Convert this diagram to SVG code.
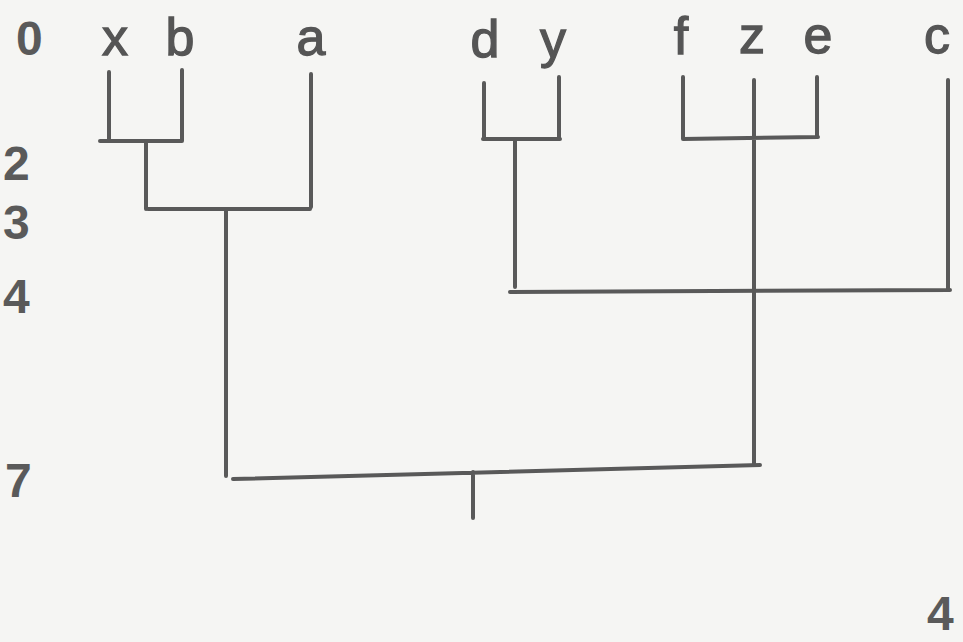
<svg xmlns="http://www.w3.org/2000/svg" width="963" height="642" viewBox="0 0 963 642">
<style>
.t{font-family:"Liberation Sans",Arial,sans-serif;font-size:52px;fill:#555;stroke:#555;stroke-width:1.3px;}
.n{font-family:"Liberation Sans",Arial,sans-serif;font-size:48px;fill:#5a5a5a;font-weight:bold;}
.l{stroke:#595959;stroke-width:4;fill:none;stroke-linecap:round;stroke-linejoin:round;}
</style>
<rect width="963" height="642" fill="#f5f5f3"/>
<g id="scale">
<text class="n" x="16" y="55">0</text>
<text class="n" x="3" y="180">2</text>
<text class="n" x="3" y="239">3</text>
<text class="n" x="3" y="313">4</text>
<text class="n" x="5" y="497">7</text>
<text class="n" x="927" y="630">4</text>
</g>
<g id="leaf-x"><text class="t" x="115" y="55" text-anchor="middle">x</text></g>
<g id="leaf-b"><text class="t" x="180" y="55" text-anchor="middle">b</text></g>
<g id="leaf-a"><text class="t" x="311" y="55" text-anchor="middle">a</text></g>
<g id="leaf-d"><text class="t" x="485" y="57" text-anchor="middle">d</text></g>
<g id="leaf-y"><text class="t" x="553" y="57" text-anchor="middle">y</text></g>
<g id="leaf-f"><text class="t" x="681" y="54" text-anchor="middle">f</text></g>
<g id="leaf-z"><text class="t" x="752" y="53" text-anchor="middle">z</text></g>
<g id="leaf-e"><text class="t" x="818" y="53" text-anchor="middle">e</text></g>
<g id="leaf-c"><text class="t" x="937" y="53" text-anchor="middle">c</text></g>
<g id="connectors">
<path class="l" d="M109 72 V141 M182 70 V141 M100 141 H182 M146 141 V209"/>
<path class="l" d="M311 74 V207 M148 209 H310 M226 209 V476"/>
<path class="l" d="M484 83 V139 M559 77 V139 M483 139 H560 M515 139 V287"/>
<path class="l" d="M683 77 V139 M754 80 V465 M817 77 V137 M683 139 L818 137"/>
<path class="l" d="M948 80 V290 M510 292 L950 290"/>
<path class="l" d="M233 479 L760 465 M473 472 V518"/>
</g>
</svg>
